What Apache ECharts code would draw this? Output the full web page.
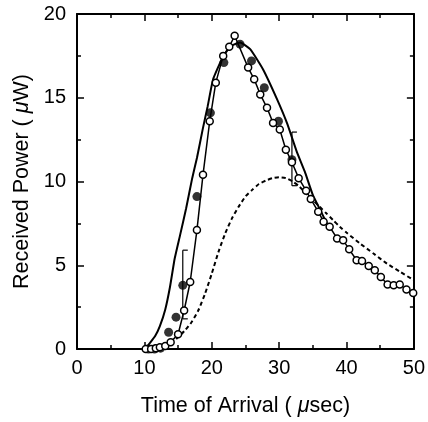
<!DOCTYPE html>
<html>
<head>
<meta charset="UTF-8">
<script src="https://cdn.jsdelivr.net/npm/echarts@6/dist/echarts.min.js"></script>
</head>
<body style="margin:0;background:#fff">
<div id="chart" style="width:428px;height:422px"></div>
<script>
// open circles, connected
const openX = [10.2, 11.0, 11.7, 12.3, 13.1, 13.9, 15.0, 15.9, 16.8, 17.8, 18.7, 19.7, 20.6, 21.7, 22.6, 23.4,
  25.4, 26.3, 27.2, 28.2, 29.1, 30.1, 31.0, 31.9, 32.9, 34.0, 34.7, 35.8, 36.6, 37.5, 38.6, 39.5,
  40.4, 41.5, 42.3, 43.3, 44.2, 45.1, 46.1, 47.0, 47.9, 48.9, 49.9];
const openY = [0, 0, 0.05, 0.1, 0.18, 0.41, 0.88, 2.3, 4.0, 7.1, 10.4, 13.6, 15.9, 17.5, 18.05, 18.7,
  16.8, 16.1, 15.2, 14.4, 13.5, 13.1, 11.9, 11.15, 10.2, 9.45, 8.95, 8.2, 7.6, 7.3, 6.6, 6.5,
  5.95, 5.3, 5.25, 4.95, 4.7, 4.3, 3.85, 3.8, 3.85, 3.55, 3.35];

// filled circles (measured)
const fillX = [10.6, 11.5, 12.4, 13.6, 14.7, 15.7, 17.8, 19.8, 21.8, 24.2, 25.9, 27.8, 29.9, 31.9];
const fillY = [0, 0, 0.05, 1.0, 1.9, 3.8, 9.1, 14.1, 17.1, 18.2, 17.2, 15.6, 13.6, 11.3];

// error bars: x, low, high
const errX = [15.7, 31.9];
const errLow = [1.8, 9.75];
const errHigh = [5.9, 12.95];

// solid model curve
const solidX = [10.1, 10.8, 11.6, 12.3, 13.1, 13.8, 14.5, 15.3, 16.2, 17.1, 17.8, 18.7, 19.4, 20.2, 21.5,
  22.7, 24.2, 25.7, 27.6, 29.7, 31.2, 32.6, 33.8, 35.0, 36.1, 37.2];
const solidY = [0, 0.35, 0.77, 1.36, 2.36, 3.7, 5.4, 6.8, 8.4, 10.2, 11.4, 13.2, 14.5, 16.1, 17.3,
  18.05, 18.3, 17.9, 16.7, 14.9, 13.45, 11.8, 10.6, 9.2, 8.3, 7.4];

// dashed model curve
const dashX = [12, 13, 14, 15, 16, 17, 18, 19, 20, 21, 22, 23, 24, 25, 26, 27, 28, 29, 30, 31, 32, 33,
  34, 35, 36, 37, 38, 39, 40, 42, 44, 46, 48, 50];
const dashY = [0, 0.1, 0.35, 0.7, 1.1, 1.6, 2.3, 3.3, 4.5, 5.8, 6.9, 7.8, 8.5, 9.1, 9.5, 9.85, 10.05, 10.2,
  10.25, 10.2, 10.0, 9.7, 9.3, 8.9, 8.5, 8.1, 7.7, 7.3, 6.95, 6.3, 5.7, 5.1, 4.6, 4.1];

const zip = (a, b) => a.map((v, i) => [v, b[i]]);

const font = 'Liberation Sans, Arial, sans-serif';
const axisLine = { show: true, onZero: false, lineStyle: { color: '#000', width: 2 } };
const tick = { show: true, inside: true, length: 7, lineStyle: { color: '#000', width: 1.5 } };
const minor = { show: true, splitNumber: 2, length: 4, lineStyle: { color: '#000', width: 1.5 } };
const nameStyle = {
  color: '#000', fontSize: 21.5, fontFamily: font,
  rich: { i: { fontStyle: 'italic', fontSize: 21.5, fontFamily: font, color: '#000' } }
};

let chart = echarts.init(document.getElementById('chart'));
chart.setOption({
  animation: false,
  grid: { left: 77, right: 14, top: 14, bottom: 69 },
  xAxis: [
    {
      type: 'value', min: 0, max: 50, interval: 10,
      axisLine: axisLine, axisTick: tick, minorTick: minor, splitLine: { show: false },
      axisLabel: { color: '#000', fontSize: 20, fontFamily: font, margin: 9 },
      name: 'Time of Arrival ( {i|μ}sec)', nameLocation: 'middle', nameGap: 46,
      nameTextStyle: nameStyle
    },
    {
      type: 'value', min: 0, max: 50, interval: 10, position: 'top',
      axisLine: axisLine, axisTick: tick, minorTick: minor, splitLine: { show: false },
      axisLabel: { show: false }
    }
  ],
  yAxis: [
    {
      type: 'value', min: 0, max: 20, interval: 5,
      axisLine: axisLine, axisTick: tick, minorTick: minor, splitLine: { show: false },
      axisLabel: { color: '#000', fontSize: 20, fontFamily: font, margin: 11 },
      name: 'Received Power ( {i|μ}W)', nameLocation: 'middle', nameGap: 44,
      nameTextStyle: nameStyle
    },
    {
      type: 'value', min: 0, max: 20, interval: 5, position: 'right',
      axisLine: axisLine, axisTick: tick, minorTick: minor, splitLine: { show: false },
      axisLabel: { show: false }
    }
  ],
  series: [
    {
      type: 'line', data: zip(dashX, dashY), showSymbol: false, smooth: 0.2,
      lineStyle: { color: '#000', width: 2, type: [4, 3] }
    },
    {
      type: 'line', data: zip(solidX, solidY), showSymbol: false, smooth: 0.15,
      lineStyle: { color: '#000', width: 2 }
    },
    {
      type: 'custom', z: 3,
      data: errX.map((x, i) => [x, errLow[i], errHigh[i]]),
      renderItem: function (params, api) {
        const lo = api.coord([api.value(0), api.value(1)]);
        const hi = api.coord([api.value(0), api.value(2)]);
        const st = { stroke: '#000', lineWidth: 1.2 };
        return {
          type: 'group', children: [
            { type: 'line', shape: { x1: lo[0], y1: lo[1], x2: hi[0], y2: hi[1] }, style: st },
            { type: 'line', shape: { x1: hi[0], y1: hi[1], x2: hi[0] + 5, y2: hi[1] }, style: st },
            { type: 'line', shape: { x1: lo[0], y1: lo[1], x2: lo[0] + 5, y2: lo[1] }, style: st }
          ]
        };
      }
    },
    {
      type: 'scatter', data: zip(fillX, fillY), symbol: 'circle', symbolSize: 9, z: 4,
      itemStyle: { color: '#000' }
    },
    {
      type: 'line', data: zip(openX, openY), symbol: 'circle', symbolSize: 7, showAllSymbol: true, z: 5,
      lineStyle: { color: '#000', width: 1.5 },
      itemStyle: { color: '#fff', borderColor: '#000', borderWidth: 1.5 }
    }
  ]
});
</script>
</body>
</html>
